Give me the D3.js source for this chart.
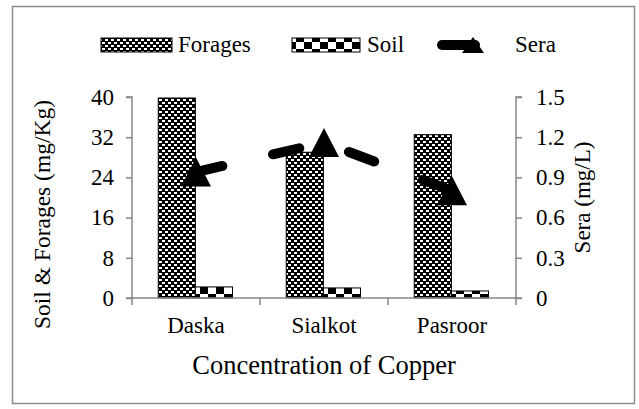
<!DOCTYPE html>
<html>
<head>
<meta charset="utf-8">
<script src="https://cdn.jsdelivr.net/npm/d3@7"></script>
<style>
  body { margin: 0; background: #fff; }
  svg text { font-family: "Liberation Serif", "Times New Roman", serif; fill: #000; }
</style>
</head>
<body>
<svg id="chart" width="639" height="409"></svg>
<script>
const categories = ['Daska', 'Sialkot', 'Pasroor'];
const forages = [39.8, 29.0, 32.5];
const soil = [2.2, 2.0, 1.4];
const sera = [0.94, 1.16, 0.80];
const leftTicks = [0, 8, 16, 24, 32, 40];
const rightTicks = [0, 0.3, 0.6, 0.9, 1.2, 1.5];
const seriesNames = ['Forages', 'Soil'];

const svg = d3.select('#chart');
const plot = {left: 132, right: 516, top: 97, bottom: 298};
const axisColor = '#868686';
const fontSize = 23;

// outer frame
svg.append('rect')
    .attr('x', 12.5).attr('y', 6.5)
    .attr('width', 622).attr('height', 397)
    .attr('fill', 'none')
    .attr('stroke', '#8c8c8c')
    .attr('stroke-width', 1.5);

// patterns
const defs = svg.append('defs');
const fine = defs.append('pattern')
    .attr('id', 'fine').attr('patternUnits', 'userSpaceOnUse')
    .attr('width', 6).attr('height', 6);
fine.append('rect').attr('width', 6).attr('height', 6).attr('fill', '#000');
fine.append('rect').attr('width', 3).attr('height', 2).attr('fill', '#fff');
fine.append('rect').attr('x', 3).attr('y', 3).attr('width', 3).attr('height', 2).attr('fill', '#fff');

const checker = defs.append('pattern')
    .attr('id', 'checker').attr('patternUnits', 'userSpaceOnUse')
    .attr('width', 16).attr('height', 14);
checker.append('rect').attr('width', 16).attr('height', 14).attr('fill', '#fff');
checker.append('rect').attr('width', 8).attr('height', 7).attr('fill', '#000');
checker.append('rect').attr('x', 8).attr('y', 7).attr('width', 8).attr('height', 7).attr('fill', '#000');

const fills = ['url(#fine)', 'url(#checker)'];

// scales
const x0 = d3.scaleBand().domain(categories).range([plot.left, plot.right]).padding(0);
const bw = x0.bandwidth();
const x1 = d3.scaleBand().domain(seriesNames).range([bw * 0.205, bw * 0.785]).padding(0);
const yL = d3.scaleLinear().domain([0, 40]).range([plot.bottom, plot.top]);
const yR = d3.scaleLinear().domain([0, 1.5]).range([plot.bottom, plot.top]);

// bars
const seriesData = [forages, soil];
seriesNames.forEach((s, si) => {
    svg.append('g').selectAll('rect')
        .data(categories)
        .join('rect')
        .attr('x', (c) => x0(c) + x1(s))
        .attr('y', (c, i) => yL(seriesData[si][i]))
        .attr('width', x1.bandwidth())
        .attr('height', (c, i) => yL(0) - yL(seriesData[si][i]))
        .attr('fill', fills[si])
        .attr('stroke', '#000')
        .attr('stroke-width', 1);
});

// left axis
const gl = svg.append('g').attr('transform', `translate(${plot.left},0)`)
    .call(d3.axisLeft(yL).tickValues(leftTicks).tickSize(6).tickPadding(12).tickFormat(d3.format('d')));
gl.select('.domain').attr('stroke', axisColor).attr('stroke-width', 1.5).attr('d', `M-6,${plot.top}H0V${plot.bottom}`);
gl.selectAll('.tick line').attr('stroke', axisColor).attr('stroke-width', 1.5);
gl.selectAll('.tick text').attr('font-size', fontSize).attr('font-family', 'Liberation Serif');

// right axis
const gr = svg.append('g').attr('transform', `translate(${plot.right},0)`)
    .call(d3.axisRight(yR).tickValues(rightTicks).tickSize(6).tickPadding(14)
        .tickFormat((d) => d === 0 ? '0' : d3.format('.1f')(d)));
gr.select('.domain').attr('stroke', axisColor).attr('stroke-width', 1.5).attr('d', `M6,${plot.top}H0V${plot.bottom}`);
gr.selectAll('.tick line').attr('stroke', axisColor).attr('stroke-width', 1.5);
gr.selectAll('.tick text').attr('font-size', fontSize).attr('font-family', 'Liberation Serif');

// x axis
const gx = svg.append('g').attr('transform', `translate(0,${plot.bottom})`);
gx.append('line').attr('x1', plot.left - 6).attr('x2', plot.right + 6)
    .attr('stroke', axisColor).attr('stroke-width', 1.5);
gx.selectAll('line.tk')
    .data(categories.concat(['end']))
    .join('line').attr('class', 'tk')
    .attr('x1', (c, i) => i < categories.length ? x0(c) : plot.right)
    .attr('x2', (c, i) => i < categories.length ? x0(c) : plot.right)
    .attr('y1', 0).attr('y2', 7)
    .attr('stroke', axisColor).attr('stroke-width', 1.5);
gx.selectAll('text')
    .data(categories)
    .join('text')
    .attr('x', (c) => x0(c) + bw / 2)
    .attr('y', 35)
    .attr('text-anchor', 'middle')
    .attr('font-size', fontSize)
    .text((c) => c);

// sera line
const line = d3.line()
    .x((d, i) => x0(categories[i]) + bw / 2)
    .y((d) => yR(d));
svg.append('path')
    .datum(sera)
    .attr('d', line)
    .attr('fill', 'none')
    .attr('stroke', '#000')
    .attr('stroke-width', 10)
    .attr('stroke-linecap', 'round')
    .attr('stroke-dasharray', '27,52');

const tri = (w, h) => `M0,${-h / 2}L${w / 2},${h / 2}L${-w / 2},${h / 2}Z`;
svg.append('g').selectAll('path')
    .data(sera)
    .join('path')
    .attr('transform', (d, i) => `translate(${x0(categories[i]) + bw / 2},${yR(d)})`)
    .attr('d', tri(30, 29))
    .attr('fill', '#000');

// axis titles
svg.append('text')
    .attr('transform', `translate(50,${(plot.top + plot.bottom) / 2 + 17}) rotate(-90)`)
    .attr('text-anchor', 'middle')
    .attr('font-size', 23.5)
    .text('Soil & Forages (mg/Kg)');
svg.append('text')
    .attr('transform', `translate(590,${(plot.top + plot.bottom) / 2}) rotate(-90)`)
    .attr('text-anchor', 'middle')
    .attr('font-size', fontSize)
    .text('Sera (mg/L)');
svg.append('text')
    .attr('x', (plot.left + plot.right) / 2)
    .attr('y', 374)
    .attr('text-anchor', 'middle')
    .attr('font-size', 26.5)
    .text('Concentration of Copper');

// legend
const lg = svg.append('g');
lg.append('rect').attr('x', 101).attr('y', 38).attr('width', 71).attr('height', 14)
    .attr('fill', 'url(#fine)').attr('stroke', '#000');
lg.append('text').attr('x', 178).attr('y', 52).attr('font-size', fontSize).text('Forages');
lg.append('rect').attr('x', 292).attr('y', 38).attr('width', 68).attr('height', 14)
    .attr('fill', 'url(#checker)').attr('stroke', '#000');
lg.append('text').attr('x', 367).attr('y', 52).attr('font-size', fontSize).text('Soil');
lg.append('line').attr('x1', 442).attr('x2', 475).attr('y1', 45).attr('y2', 45)
    .attr('stroke', '#000').attr('stroke-width', 10).attr('stroke-linecap', 'round');
lg.append('path').attr('transform', 'translate(473,45)').attr('d', tri(22, 16)).attr('fill', '#000');
lg.append('text').attr('x', 515).attr('y', 52).attr('font-size', fontSize).text('Sera');
</script>
</body>
</html>
